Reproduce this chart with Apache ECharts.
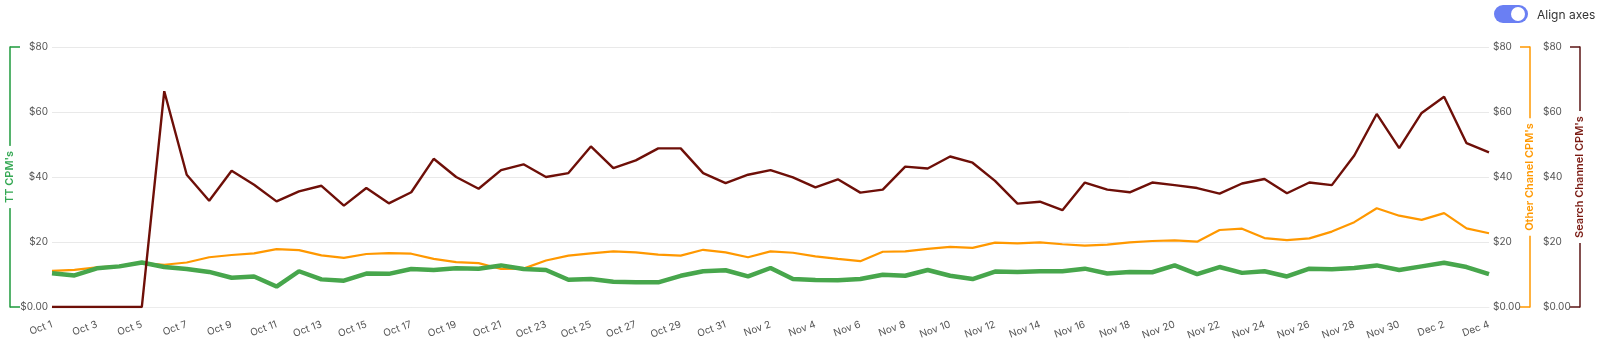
<!DOCTYPE html>
<html>
<head>
<meta charset="utf-8">
<script src="https://cdn.jsdelivr.net/npm/echarts@6/dist/echarts.min.js"></script>
<style>
  html, body { margin: 0; padding: 0; background: #fff; }
  #wrap { position: relative; width: 1600px; height: 361px; }
  #chart { position: absolute; left: 0; top: 0; width: 1600px; height: 361px; }
  #toggle { position: absolute; left: 1494px; top: 5px; height: 18px; display: flex; align-items: center; font-family: Inter, "Noto Sans", sans-serif; font-size: 12px; color: #333; }
  #pill { width: 34px; height: 18px; border-radius: 9px; background: #6a7ff3; position: relative; margin-right: 9px; }
  #knob { position: absolute; right: 3px; top: 2px; width: 14px; height: 14px; border-radius: 7px; background: #fff; }
</style>
</head>
<body>
<div id="wrap">
  <div id="chart"></div>
  <div id="toggle"><div id="pill"><div id="knob"></div></div><span>Align axes</span></div>
</div>
<script>
const categories = [
  'Oct 1','Oct 2','Oct 3','Oct 4','Oct 5','Oct 6','Oct 7','Oct 8','Oct 9','Oct 10',
  'Oct 11','Oct 12','Oct 13','Oct 14','Oct 15','Oct 16','Oct 17','Oct 18','Oct 19','Oct 20',
  'Oct 21','Oct 22','Oct 23','Oct 24','Oct 25','Oct 26','Oct 27','Oct 28','Oct 29','Oct 30',
  'Oct 31','Nov 1','Nov 2','Nov 3','Nov 4','Nov 5','Nov 6','Nov 7','Nov 8','Nov 9',
  'Nov 10','Nov 11','Nov 12','Nov 13','Nov 14','Nov 15','Nov 16','Nov 17','Nov 18','Nov 19',
  'Nov 20','Nov 21','Nov 22','Nov 23','Nov 24','Nov 25','Nov 26','Nov 27','Nov 28','Nov 29',
  'Nov 30','Dec 1','Dec 2','Dec 3','Dec 4'
];
const ttCpm = [
  10.4, 9.7, 11.9, 12.5, 13.7, 12.3, 11.7, 10.8, 9.0, 9.4,
  6.3, 11.0, 8.5, 8.1, 10.3, 10.2, 11.7, 11.4, 11.9, 11.8,
  12.8, 11.7, 11.4, 8.4, 8.6, 7.8, 7.6, 7.6, 9.6, 11.0,
  11.3, 9.4, 12.0, 8.6, 8.3, 8.2, 8.6, 9.9, 9.6, 11.4,
  9.6, 8.6, 10.9, 10.8, 11.0, 11.0, 11.8, 10.3, 10.8, 10.7,
  12.8, 10.1, 12.3, 10.5, 11.0, 9.4, 11.8, 11.6, 12.0, 12.8,
  11.4, 12.5, 13.6, 12.3, 10.1
];
const otherCpm = [
  11.1, 11.4, 12.2, 12.6, 13.5, 13.0, 13.7, 15.3, 16.0, 16.5,
  17.8, 17.5, 15.9, 15.1, 16.3, 16.6, 16.4, 14.8, 13.8, 13.5,
  11.7, 11.8, 14.3, 15.8, 16.5, 17.1, 16.8, 16.1, 15.8, 17.6,
  16.8, 15.3, 17.1, 16.7, 15.6, 14.8, 14.1, 17.0, 17.1, 17.9,
  18.5, 18.2, 19.8, 19.6, 19.9, 19.3, 18.9, 19.2, 19.9, 20.3,
  20.5, 20.1, 23.7, 24.1, 21.2, 20.6, 21.1, 23.2, 26.1, 30.4,
  28.1, 26.8, 28.9, 24.2, 22.7
];
const searchCpm = [
  0, 0, 0, 0, 0, 66.4, 40.7, 32.7, 41.9, 37.6,
  32.5, 35.6, 37.3, 31.2, 36.6, 31.9, 35.3, 45.6, 40.0, 36.4,
  42.1, 43.9, 40.0, 41.2, 49.4, 42.7, 45.1, 48.8, 48.8, 41.2,
  38.1, 40.7, 42.1, 39.9, 36.8, 39.3, 35.2, 36.1, 43.2, 42.6,
  46.3, 44.4, 38.8, 31.8, 32.4, 29.8, 38.3, 36.1, 35.3, 38.3,
  37.5, 36.6, 34.9, 38.0, 39.4, 35.0, 38.3, 37.5, 46.6, 59.4,
  48.9, 59.7, 64.7, 50.4, 47.6
];
const axisMin = 0, axisMax = 80, axisStep = 20;

const fontFamily = 'Inter, "Noto Sans", sans-serif';
const moneyFmt = v => v === 0 ? '$0.00' : '$' + v;

function labelAxis(position, offset, showSplit) {
  return {
    type: 'value', position, offset, min: axisMin, max: axisMax, interval: axisStep,
    axisLine: { show: false }, axisTick: { show: false },
    axisLabel: { formatter: moneyFmt, color: '#555', fontSize: 10, margin: 4, fontFamily },
    splitLine: { show: showSplit, lineStyle: { color: '#e9e9e9', width: 1 } }
  };
}
function bracketAxis(position, offset, lineColor) {
  return {
    type: 'value', position, offset, min: axisMin, max: axisMax, interval: axisMax - axisMin, z: 0,
    axisLine: { show: true, lineStyle: { color: lineColor, width: 1.5 } },
    axisTick: { show: true, inside: true, length: 10, lineStyle: { color: lineColor, width: 1.5 } },
    axisLabel: { show: false }, splitLine: { show: false }
  };
}
function nameAxis(position, offset, name, textColor) {
  return {
    type: 'value', position, offset, min: axisMin, max: axisMax, interval: axisMax - axisMin, z: 6,
    name, nameLocation: 'middle', nameGap: 0, nameRotate: 90, nameMoveOverlap: false,
    nameTextStyle: {
      color: textColor, fontSize: 11, fontWeight: 600, fontFamily,
      backgroundColor: '#fff', padding: [0, 5], align: 'center', verticalAlign: 'middle'
    },
    axisLine: { show: false }, axisTick: { show: false },
    axisLabel: { show: false }, splitLine: { show: false }
  };
}

const chart = echarts.init(document.getElementById('chart'), null, { renderer: 'canvas' });
chart.setOption({
  animation: false,
  grid: { left: 52, right: 111, top: 47, bottom: 54, containLabel: false, outerBoundsMode: 'none' },
  xAxis: {
    type: 'category', data: categories, boundaryGap: false,
    axisLine: { show: true, lineStyle: { color: '#ececec' } },
    axisTick: { show: false },
    axisLabel: { interval: 1, rotate: 20, fontSize: 10, color: '#555', margin: 17, fontFamily }
  },
  yAxis: [
    labelAxis('left', 0, true),
    labelAxis('right', 0, false),
    labelAxis('right', 50, false),
    bracketAxis('left', 42, '#1e9a3c'),
    bracketAxis('right', 41, '#ff9800'),
    bracketAxis('right', 91, '#5b1414'),
    nameAxis('left', 42, "TT CPM's", '#34a853'),
    nameAxis('right', 41, "Other Chanel CPM's", '#ff9800'),
    nameAxis('right', 91, "Search Channel CPM's", '#7a1a12')
  ],
  series: [
    { name: "Other Chanel CPM's", type: 'line', yAxisIndex: 1, data: otherCpm, showSymbol: false,
      lineStyle: { color: '#ff9800', width: 2.2 }, itemStyle: { color: '#ff9800' } },
    { name: "TT CPM's", type: 'line', yAxisIndex: 0, data: ttCpm, showSymbol: false,
      lineStyle: { color: '#47a64c', width: 4.5 }, itemStyle: { color: '#47a64c' } },
    { name: "Search Channel CPM's", type: 'line', yAxisIndex: 2, data: searchCpm, showSymbol: false,
      lineStyle: { color: '#6e0f08', width: 2.4 }, itemStyle: { color: '#6e0f08' } }
  ]
});
</script>
</body>
</html>
